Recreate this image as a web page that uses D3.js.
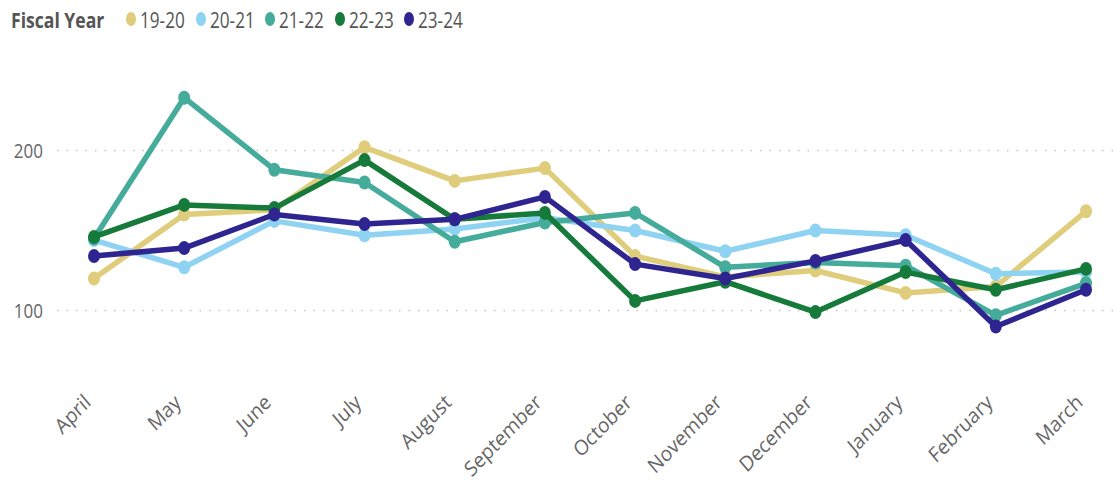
<!DOCTYPE html>
<html>
<head>
<meta charset="utf-8">
<script src="https://cdn.jsdelivr.net/npm/d3@7"></script>
<style>
  body { margin: 0; background: #fff; }
  svg { display: block; }
  text { font-family: "Open Sans", sans-serif; }
</style>
</head>
<body>
<svg width="1114" height="496"></svg>
<script>
const months = ['April', 'May', 'June', 'July', 'August', 'September', 'October',
  'November', 'December', 'January', 'February', 'March'];
const years = ['19-20', '20-21', '21-22', '22-23', '23-24'];
const colors = ['#dfcd7b', '#8fd3f3', '#45ab9a', '#157a3a', '#2f2590'];

const fy1920 = [120, 160, 163, 202, 181, 189, 134, 121, 125, 111, 115, 162];
const fy2021 = [144, 127, 156, 147, 151, 158, 150, 137, 150, 147, 123, 124];
const fy2122 = [145, 233, 188, 180, 143, 155, 161, 127, 130, 128, 97, 117];
const fy2223 = [146, 166, 164, 194, 157, 161, 106, 118, 99, 124, 113, 126];
const fy2324 = [134, 139, 160, 154, 157, 171, 129, 120, 131, 144, 90, 113];
const series = [fy1920, fy2021, fy2122, fy2223, fy2324];

const yTicks = [100, 200];

const svg = d3.select('svg');

const x = d3.scalePoint()
    .domain(months)
    .range([94, 1086]);

const y = d3.scaleLinear()
    .domain([50, 250])
    .range([390.5, 70.5]);

// gridlines
svg.append('g')
    .selectAll('line')
    .data(yTicks)
    .enter().append('line')
      .attr('x1', 57)
      .attr('x2', 1114)
      .attr('y1', d => y(d))
      .attr('y2', d => y(d))
      .attr('stroke', '#c4c4c4')
      .attr('stroke-width', 1.5)
      .attr('stroke-dasharray', '1.5,8');

// y labels
svg.append('g')
    .selectAll('text')
    .data(yTicks)
    .enter().append('text')
      .attr('transform', d => `translate(43,${y(d) + 7}) scale(0.85,1)`)
      .attr('text-anchor', 'end')
      .attr('fill', '#666')
      .style('font-size', '20px')
      .text(d => d);

// x labels (squished horizontally like the source image)
svg.append('g')
    .selectAll('text')
    .data(months)
    .enter().append('text')
      .attr('transform', d => `translate(${x(d) - 2},404) scale(0.9,1) rotate(-43)`)
      .attr('text-anchor', 'end')
      .attr('fill', '#666')
      .style('font-size', '21px')
      .text(d => d);

const line = d3.line()
    .x((d, i) => x(months[i]))
    .y(d => y(d));

const lines = svg.append('g')
    .selectAll('g')
    .data(series)
    .enter().append('g');

lines.append('path')
    .attr('d', d => line(d))
    .attr('fill', 'none')
    .attr('stroke', (d, i) => colors[i])
    .attr('stroke-width', 5.5)
    .attr('stroke-linejoin', 'round');

lines.each(function(d, si) {
  d3.select(this).selectAll('ellipse')
    .data(d)
    .enter().append('ellipse')
      .attr('cx', (v, i) => x(months[i]))
      .attr('cy', v => y(v))
      .attr('rx', 6)
      .attr('ry', 7)
      .attr('fill', colors[si]);
});

// legend
const legend = svg.append('g');
legend.append('text')
    .attr('transform', 'translate(11,28) scale(0.8,1)')
    .attr('fill', '#555')
    .style('font-size', '22px')
    .style('font-weight', 'bold')
    .text('Fiscal Year');

const legendX = [131, 201, 270, 340, 409];
const items = legend.selectAll('g.item')
    .data(years)
    .enter().append('g')
      .attr('class', 'item')
      .attr('transform', (d, i) => `translate(${legendX[i]},19)`);

items.append('ellipse')
    .attr('rx', 5)
    .attr('ry', 7)
    .attr('fill', (d, i) => colors[i]);

items.append('text')
    .attr('transform', 'translate(9,9) scale(0.78,1)')
    .attr('fill', '#555')
    .style('font-size', '22px')
    .text(d => d);
</script>
</body>
</html>
